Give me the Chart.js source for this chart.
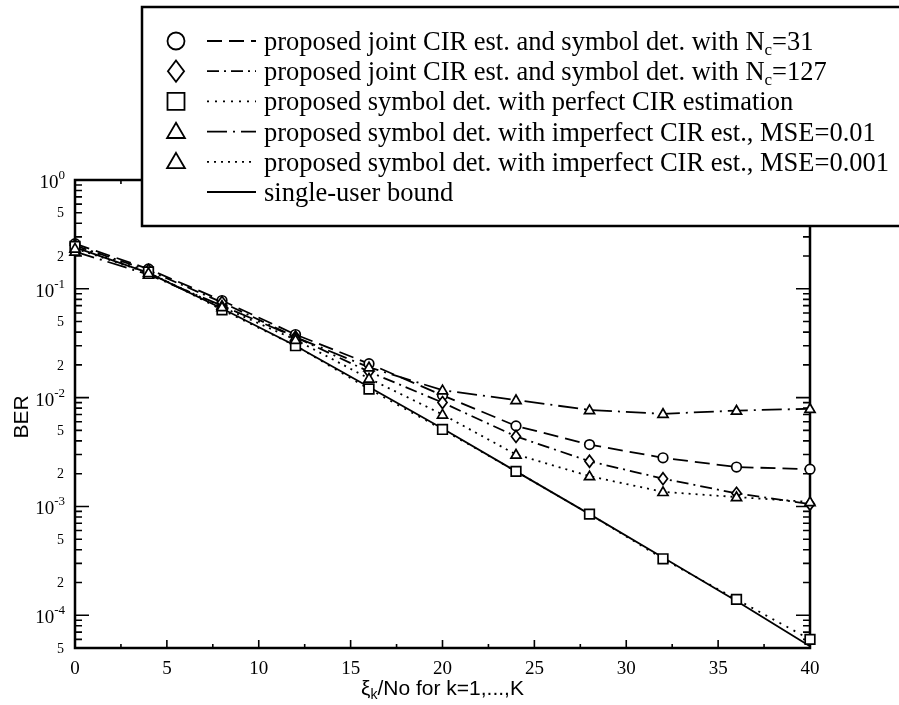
<!DOCTYPE html>
<html>
<head>
<meta charset="utf-8">
<script src="https://cdn.jsdelivr.net/npm/chart.js@4"></script>
<style>
  html, body { margin: 0; padding: 0; background: #fff; }
  #wrap { width: 899px; height: 705px; position: relative; }
</style>
</head>
<body>
<div id="wrap"><canvas id="c" width="899" height="705"></canvas></div>
<script>
// ---- data ----
const snrValues = [0, 4, 8, 12, 16, 20, 24, 28, 32, 36, 40];
const berJointNc31 = [0.26, 0.152, 0.078, 0.038, 0.0205, 0.0105, 0.0055, 0.0037, 0.0028, 0.0023, 0.0022];
const berJointNc127 = [0.25, 0.148, 0.075, 0.036, 0.0173, 0.009, 0.0044, 0.0026, 0.0018, 0.00132, 0.00105];
const berPerfectCir = [0.245, 0.143, 0.064, 0.030, 0.012, 0.0051, 0.0021, 0.00085, 0.00033, 0.00014, 0.00006];
const berMse001 = [0.22, 0.135, 0.07, 0.036, 0.019, 0.0117, 0.0095, 0.0077, 0.0071, 0.0076, 0.0079];
const berMse0001 = [0.235, 0.14, 0.068, 0.034, 0.015, 0.007, 0.0030, 0.0019, 0.00136, 0.00122, 0.0011];
const berSingleUser = [0.24, 0.14, 0.066, 0.030, 0.0125, 0.0052, 0.0021, 0.00085, 0.00034, 0.000135, 0.000052];

const legendLabels = [
  ["proposed joint CIR est. and symbol det. with N", "c", "=31"],
  ["proposed joint CIR est. and symbol det. with N", "c", "=127"],
  ["proposed symbol det. with perfect CIR estimation"],
  ["proposed symbol det. with imperfect CIR est., MSE=0.01"],
  ["proposed symbol det. with imperfect CIR est., MSE=0.001"],
  ["single-user bound"]
];
const xTickLabels = ["0", "5", "10", "15", "20", "25", "30", "35", "40"];
const yMin = 5e-5, yMax = 1;
const xTitleMain = "ξ", xTitleSub = "k", xTitleRest = "/No for k=1,...,K";
const yTitle = "BER";

// ---- styles ----
const styles = [
  { dash: [15, 7], marker: 'circle' },
  { dash: [12, 5, 2, 5], marker: 'diamond' },
  { dash: [2, 6], marker: 'square' },
  { dash: [20, 6, 2, 6], marker: 'triangle' },
  { dash: [2, 5], marker: 'triangle' },
  { dash: [], marker: 'none' }
];
const seriesData = [berJointNc31, berJointNc127, berPerfectCir, berMse001, berMse0001, berSingleUser];

function drawMarker(ctx, kind, x, y, s) {
  ctx.beginPath();
  if (kind === 'circle') {
    ctx.arc(x, y, s, 0, Math.PI * 2);
  } else if (kind === 'diamond') {
    ctx.moveTo(x, y - s * 1.25); ctx.lineTo(x + s * 0.95, y); ctx.lineTo(x, y + s * 1.25); ctx.lineTo(x - s * 0.95, y); ctx.closePath();
  } else if (kind === 'square') {
    ctx.rect(x - s, y - s, 2 * s, 2 * s);
  } else if (kind === 'triangle') {
    ctx.moveTo(x, y - s * 1.05); ctx.lineTo(x + s * 1.05, y + s * 0.75); ctx.lineTo(x - s * 1.05, y + s * 0.75); ctx.closePath();
  } else { return; }
  ctx.fillStyle = '#fff';
  ctx.fill();
  ctx.stroke();
}

const markerPlugin = {
  id: 'markers',
  afterDatasetsDraw(chart) {
    const ctx = chart.ctx;
    ctx.save();
    ctx.strokeStyle = '#000';
    ctx.lineWidth = 1.7;
    ctx.setLineDash([]);
    chart.data.datasets.forEach((ds, i) => {
      const meta = chart.getDatasetMeta(i);
      meta.data.forEach(pt => drawMarker(ctx, styles[i].marker, pt.x, pt.y, 4.8));
    });
    ctx.restore();
  }
};

const framePlugin = {
  id: 'frame',
  beforeDatasetsDraw(chart) {
    const { ctx, chartArea: { left, right, top, bottom }, scales: { x, y } } = chart;
    ctx.save();
    ctx.strokeStyle = '#000';
    ctx.fillStyle = '#000';
    ctx.lineWidth = 2.5;
    ctx.strokeRect(left, top, right - left, bottom - top);
    ctx.lineWidth = 1.6;
    // y ticks
    for (let e = -5; e <= 0; e++) {
      for (let m = 1; m <= 9; m++) {
        const v = m * Math.pow(10, e);
        if (v < yMin * 0.999 || v > yMax * 1.001) continue;
        const py = y.getPixelForValue(v);
        const len = m === 1 ? 14 : 7;
        ctx.beginPath();
        ctx.moveTo(left, py); ctx.lineTo(left + len, py);
        ctx.moveTo(right, py); ctx.lineTo(right - len, py);
        ctx.stroke();
        // labels
        if (m === 1) {
          const exp = String(e);
          ctx.font = '13px "Liberation Serif"';
          const ew = ctx.measureText(exp).width;
          ctx.font = '19px "Liberation Serif"';
          const bw = ctx.measureText('10').width;
          const xr = 65;
          ctx.textBaseline = 'alphabetic';
          ctx.textAlign = 'left';
          ctx.fillText('10', xr - ew - bw, py + 8);
          ctx.font = '13px "Liberation Serif"';
          ctx.fillText(exp, xr - ew, py - 1);
        } else if (m === 2 || m === 5) {
          ctx.font = '14px "Liberation Serif"';
          ctx.textAlign = 'right';
          ctx.textBaseline = 'middle';
          ctx.fillText(String(m), 64, py + 1);
        }
      }
    }
    // x ticks
    for (let t = 0; t <= 40; t += 2.5) {
      const px = x.getPixelForValue(t);
      const major = (t % 5 === 0);
      const len = major ? 8 : 4;
      ctx.beginPath();
      ctx.moveTo(px, bottom); ctx.lineTo(px, bottom - len);
      ctx.moveTo(px, top); ctx.lineTo(px, top + len);
      ctx.stroke();
    }
    ctx.font = '19px "Liberation Serif"';
    ctx.textAlign = 'center';
    ctx.textBaseline = 'middle';
    xTickLabels.forEach(lbl => {
      const px = x.getPixelForValue(Number(lbl));
      ctx.fillText(lbl, px, bottom + 21);
    });
    // x title
    ctx.font = '21px "Liberation Sans"';
    const wMain = ctx.measureText(xTitleMain).width;
    const wRest = ctx.measureText(xTitleRest).width;
    ctx.font = '14px "Liberation Sans"';
    const wSub = ctx.measureText(xTitleSub).width;
    const total = wMain + wSub + wRest;
    let sx = (left + right) / 2 - total / 2;
    const by = bottom + 47;
    ctx.textAlign = 'left';
    ctx.textBaseline = 'alphabetic';
    ctx.font = '21px "Liberation Sans"';
    ctx.fillText(xTitleMain, sx, by); sx += wMain;
    ctx.font = '14px "Liberation Sans"';
    ctx.fillText(xTitleSub, sx, by + 4); sx += wSub;
    ctx.font = '21px "Liberation Sans"';
    ctx.fillText(xTitleRest, sx, by);
    // y title
    ctx.save();
    ctx.translate(22, (top + bottom) / 2 + 3);
    ctx.rotate(-Math.PI / 2);
    ctx.font = '21px "Liberation Sans"';
    ctx.textAlign = 'center';
    ctx.textBaseline = 'middle';
    ctx.fillText(yTitle, 0, 0);
    ctx.restore();
    ctx.restore();
  },
  afterDraw(chart) {
    const ctx = chart.ctx;
    ctx.save();
    // legend box
    const bx = 142, byTop = 7, bw = 800, bh = 219;
    ctx.fillStyle = '#fff';
    ctx.fillRect(bx, byTop, bw, bh);
    ctx.strokeStyle = '#000';
    ctx.lineWidth = 2.5;
    ctx.strokeRect(bx, byTop, bw, bh);
    for (let i = 0; i < legendLabels.length; i++) {
      const cy = 41 + i * 30.2;
      ctx.lineWidth = 1.8;
      ctx.strokeStyle = '#000';
      ctx.setLineDash(styles[i].dash);
      ctx.beginPath();
      ctx.moveTo(207, cy); ctx.lineTo(256, cy);
      ctx.stroke();
      ctx.setLineDash([]);
      ctx.lineWidth = 1.8;
      drawMarker(ctx, styles[i].marker, 176, cy, 8.5);
      // text
      const parts = legendLabels[i];
      let tx = 264;
      const base = cy + 9;
      ctx.fillStyle = '#000';
      ctx.textAlign = 'left';
      ctx.textBaseline = 'alphabetic';
      ctx.font = '26.5px "Liberation Serif"';
      ctx.fillText(parts[0], tx, base);
      tx += ctx.measureText(parts[0]).width;
      if (parts.length > 1) {
        ctx.font = '17px "Liberation Serif"';
        ctx.fillText(parts[1], tx, base + 5);
        tx += ctx.measureText(parts[1]).width;
        ctx.font = '26.5px "Liberation Serif"';
        ctx.fillText(parts[2], tx, base);
      }
    }
    ctx.restore();
  }
};

const datasets = seriesData.map((arr, i) => ({
  label: legendLabels[i].join(''),
  data: snrValues.map((xv, j) => ({ x: xv, y: arr[j] })),
  borderColor: '#000',
  borderWidth: 1.8,
  borderDash: styles[i].dash,
  pointRadius: 0,
  pointHoverRadius: 0,
  fill: false,
  tension: 0,
  clip: false
}));

new Chart(document.getElementById('c'), {
  type: 'line',
  data: { datasets },
  options: {
    responsive: false,
    animation: false,
    devicePixelRatio: 1,
    layout: { padding: { left: 75, right: 89, top: 180, bottom: 57 } },
    plugins: { legend: { display: false }, tooltip: { enabled: false } },
    scales: {
      x: { type: 'linear', min: 0, max: 40, display: false },
      y: { type: 'logarithmic', min: yMin, max: yMax, display: false }
    }
  },
  plugins: [framePlugin, markerPlugin]
});
</script>
</body>
</html>
